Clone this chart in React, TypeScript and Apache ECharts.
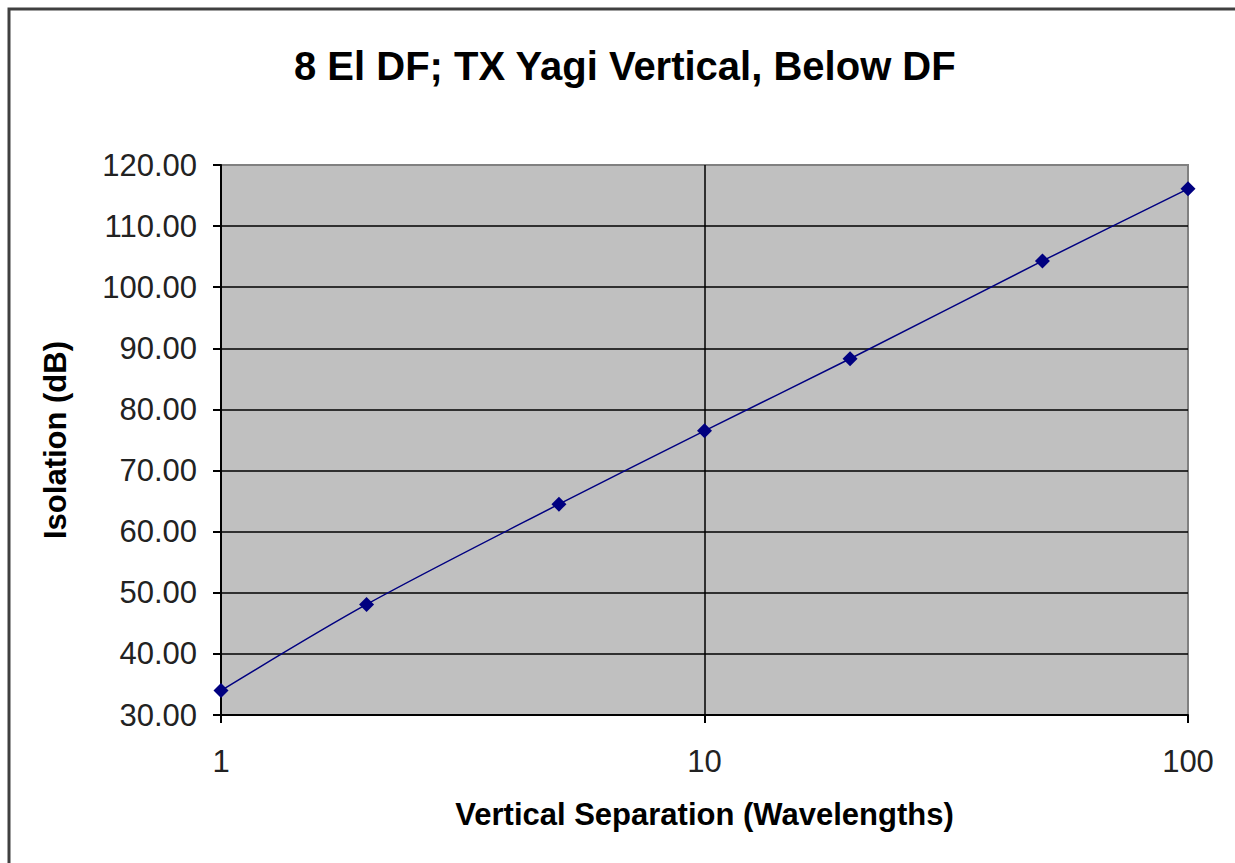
import React, { useEffect, useRef } from "react";
import * as echarts from "echarts";

const titleText = "8 El DF; TX Yagi Vertical, Below DF";
const xAxisTitle = "Vertical Separation (Wavelengths)";
const yAxisTitle = "Isolation (dB)";
const separations = [1, 2, 5, 10, 20, 50, 100];
const isolation = [34.0, 48.1, 64.5, 76.5, 88.3, 104.3, 116.1];

const FONT = "'Liberation Sans', Arial, sans-serif";

export default function App() {
  const ref = useRef<HTMLDivElement>(null);
  useEffect(() => {
    document.body.style.margin = "0";
    const chart = echarts.init(ref.current!, null, { renderer: "svg" });
    chart.setOption({
      animation: false,
      backgroundColor: "#ffffff",
      title: {
        text: titleText,
        left: 289,
        top: 41,
        textStyle: { fontFamily: FONT, fontSize: 40, fontWeight: "bold", color: "#000" },
      },
      grid: {
        left: 221,
        top: 165,
        width: 967,
        height: 550,
        show: true,
        backgroundColor: "#C0C0C0",
        borderColor: "#808080",
        borderWidth: 2,
      },
      xAxis: {
        type: "log",
        logBase: 10,
        min: 1,
        max: 100,
        interval: 1,
        name: xAxisTitle,
        nameLocation: "middle",
        nameGap: 84,
        nameTextStyle: { fontFamily: FONT, fontSize: 31, fontWeight: "bold", color: "#000" },
        axisLine: { show: true, lineStyle: { color: "#000", width: 2 } },
        axisTick: { show: true, inside: false, length: 8, lineStyle: { color: "#000", width: 2 } },
        axisLabel: { fontFamily: FONT, fontSize: 31, color: "#222", margin: 31 },
        splitLine: { show: true, showMinLine: false, showMaxLine: false, lineStyle: { color: "#000", width: 1.5 } },
        minorTick: { show: false },
      },
      yAxis: {
        type: "value",
        min: 30,
        max: 120,
        interval: 10,
        name: yAxisTitle,
        nameLocation: "middle",
        nameGap: 150,
        nameTextStyle: { fontFamily: FONT, fontSize: 31, fontWeight: "bold", color: "#000" },
        axisLine: { show: true, lineStyle: { color: "#000", width: 2 } },
        axisTick: { show: true, inside: false, length: 8, lineStyle: { color: "#000", width: 2 } },
        axisLabel: {
          fontFamily: FONT,
          fontSize: 31,
          color: "#222",
          margin: 24,
          formatter: (v: number) => v.toFixed(2),
        },
        splitLine: { show: true, showMinLine: false, showMaxLine: false, lineStyle: { color: "#000", width: 1.5 } },
      },
      series: [
        {
          type: "line",
          data: separations.map((s, i) => [s, isolation[i]]),
          smooth: 0.3,
          symbol: "diamond",
          symbolSize: 15,
          itemStyle: { color: "#000080" },
          lineStyle: { color: "#000080", width: 1.5 },
          z: 5,
        },
      ],
      graphic: [
        {
          type: "rect",
          shape: { x: 9, y: 9, width: 1400, height: 1000 },
          style: { fill: "none", stroke: "#404040", lineWidth: 3 },
          silent: true,
        },
      ],
    });
    return () => chart.dispose();
  }, []);
  return <div ref={ref} style={{ width: 1235, height: 863 }} />;
}
